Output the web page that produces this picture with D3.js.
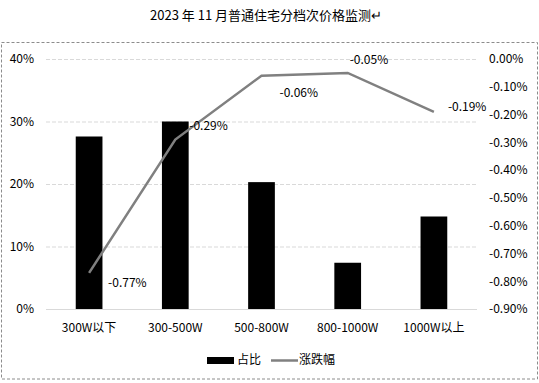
<!DOCTYPE html>
<html>
<head>
<meta charset="utf-8">
<script src="https://cdn.jsdelivr.net/npm/d3@7"></script>
<style>
  body { margin: 0; background: #fff; }
  svg text { font-family: "Noto Sans CJK SC", "Noto Sans", sans-serif; fill: #000; }
</style>
</head>
<body>
<script>
// donnees du graphe
var categories = ["300W以下", "300-500W", "500-800W", "800-1000W", "1000W以上"];
var shareValues = [27.6, 30.0, 20.3, 7.4, 14.8];       // 占比 (%)
var changeValues = [-0.77, -0.29, -0.06, -0.05, -0.19]; // 涨跌幅 (%)
var leftTicks = [0, 10, 20, 30, 40];
var rightTicks = [0, -0.1, -0.2, -0.3, -0.4, -0.5, -0.6, -0.7, -0.8, -0.9];

var larg = 539, haut = 383;
var plotL = 46, plotR = 477, plotT = 59, plotB = 309;
// decalage des etiquettes de la courbe (mise en page)
var labelDx = [19, 14, 18, 2, 14];
var labelDy = [10, -14, 17, -13, -5];

// format avec tiret simple
var fmt2 = d3.formatLocale({decimal: ".", thousands: ",", grouping: [3], currency: ["", ""], minus: "-"}).format(".2f");

var svg = d3.select("body").append("svg")
  .attr("width", larg)
  .attr("height", haut);

// titre
svg.append("text")
  .attr("x", 266).attr("y", 20)
  .attr("text-anchor", "middle")
  .attr("font-size", "13px")
  .text("2023 年 11 月普通住宅分档次价格监测↵");

// cadre pointille
svg.append("rect")
  .attr("x", 1.5).attr("y", 42.5)
  .attr("width", 536).attr("height", 336.5)
  .attr("fill", "none")
  .attr("stroke", "#8c8c8c")
  .attr("stroke-dasharray", "3,2");

var x = d3.scaleBand().domain(categories).range([plotL, plotR]);
var yL = d3.scaleLinear().domain([0, 40]).range([plotB, plotT]);
var yR = d3.scaleLinear().domain([-0.9, 0]).range([plotB, plotT]);
var barW = x.bandwidth() * 0.31;

// grille
svg.append("g")
  .attr("transform", "translate(" + plotL + ",0)")
  .call(d3.axisLeft(yL).tickValues(leftTicks.slice(1)).tickSize(-(plotR - plotL)).tickFormat(""))
  .call(function(g) { g.select(".domain").remove(); })
  .selectAll("line")
  .attr("stroke", "#d9d9d9")
  .attr("stroke-dasharray", "4,2");

// axe gauche
svg.append("g")
  .attr("transform", "translate(" + plotL + ",0)")
  .call(d3.axisLeft(yL).tickValues(leftTicks).tickSize(0).tickPadding(12)
    .tickFormat(function(d) { return d + "%"; }))
  .call(function(g) { g.select(".domain").remove(); })
  .selectAll("text")
  .attr("font-size", "12px");

// axe droit
svg.append("g")
  .attr("transform", "translate(" + plotR + ",0)")
  .call(d3.axisRight(yR).tickValues(rightTicks).tickSize(0).tickPadding(12)
    .tickFormat(function(d) { return fmt2(d) + "%"; }))
  .call(function(g) { g.select(".domain").remove(); })
  .selectAll("text")
  .attr("font-size", "12px");

// barres
svg.selectAll("rect.bar")
  .data(shareValues)
  .enter()
  .append("rect")
  .attr("class", "bar")
  .attr("x", function(d, i) { return x(categories[i]) + (x.bandwidth() - barW) / 2; })
  .attr("y", function(d) { return yL(d); })
  .attr("width", barW)
  .attr("height", function(d) { return plotB - yL(d); })
  .attr("fill", "#000");

// axe des categories
svg.append("line")
  .attr("x1", plotL).attr("x2", plotR)
  .attr("y1", plotB + 0.5).attr("y2", plotB + 0.5)
  .attr("stroke", "#d9d9d9");

svg.append("g")
  .attr("transform", "translate(0," + plotB + ")")
  .call(d3.axisBottom(x).tickSize(0).tickPadding(14))
  .call(function(g) { g.select(".domain").remove(); })
  .selectAll("text")
  .attr("font-size", "12px");

// courbe
var cx = function(i) { return x(categories[i]) + x.bandwidth() / 2; };
var line = d3.line()
  .x(function(d, i) { return cx(i); })
  .y(function(d) { return yR(d); });

svg.append("path")
  .datum(changeValues)
  .attr("d", line)
  .attr("fill", "none")
  .attr("stroke", "#808080")
  .attr("stroke-width", 2.5);

// etiquettes
svg.selectAll("text.lbl")
  .data(changeValues)
  .enter()
  .append("text")
  .attr("class", "lbl")
  .attr("x", function(d, i) { return cx(i) + labelDx[i]; })
  .attr("y", function(d, i) { return yR(d) + labelDy[i]; })
  .attr("dy", "0.35em")
  .attr("font-size", "12px")
  .text(function(d) { return fmt2(d) + "%"; });

// legende
svg.append("rect")
  .attr("x", 207).attr("y", 357)
  .attr("width", 27).attr("height", 7)
  .attr("fill", "#000");
svg.append("text")
  .attr("x", 237).attr("y", 360).attr("dy", "0.35em")
  .attr("font-size", "12px")
  .text("占比");
svg.append("line")
  .attr("x1", 271).attr("x2", 298)
  .attr("y1", 360.5).attr("y2", 360.5)
  .attr("stroke", "#808080")
  .attr("stroke-width", 2.5);
svg.append("text")
  .attr("x", 299).attr("y", 360).attr("dy", "0.35em")
  .attr("font-size", "12px")
  .text("涨跌幅");
</script>
</body>
</html>
